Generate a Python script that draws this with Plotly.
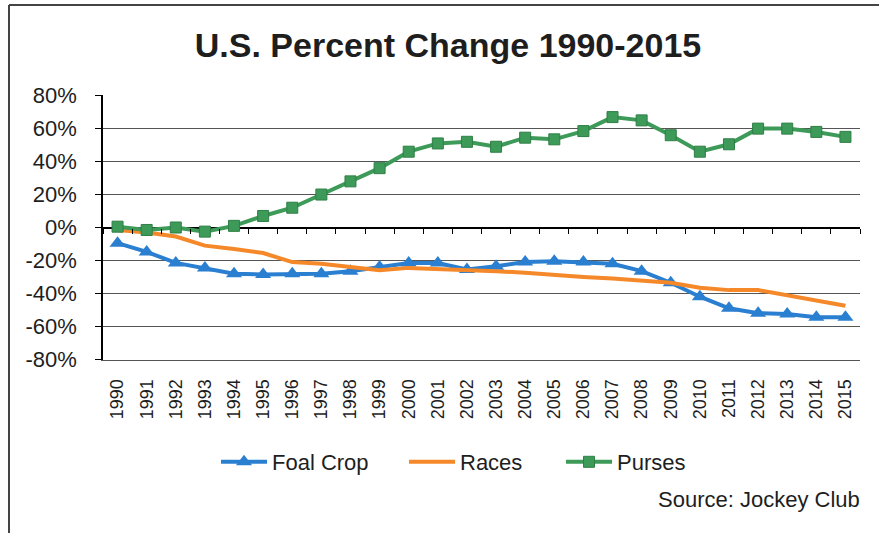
import plotly.graph_objects as go

years = ["1990", "1991", "1992", "1993", "1994", "1995", "1996", "1997", "1998", "1999",
         "2000", "2001", "2002", "2003", "2004", "2005", "2006", "2007", "2008", "2009",
         "2010", "2011", "2012", "2013", "2014", "2015"]
foal_crop = [-9.5, -14.8, -21.5, -24.5, -28, -28.5, -28, -28, -26.5, -24, -21.5, -21.5, -25.5,
             -23.5, -21, -20.5, -21, -22, -26.5, -33.5, -42, -49, -52, -52.5, -54.5, -54.5]
races = [-1.5, -3, -5.5, -11, -13, -15.5, -21, -22, -24, -26, -24.5, -25, -26, -26.5, -27.5,
         -29, -30, -31, -32, -33.5, -36.5, -38, -38, -41, -44, -47.5]
purses = [0.5, -1.5, 0, -2.5, 1, 7, 12, 20, 28, 36, 46, 51, 52, 49, 54.5, 53.5, 58.5, 67, 65,
          56, 46, 50.5, 60, 60, 58, 55]
y_ticks = [-80, -60, -40, -20, 0, 20, 40, 60, 80]
y_tick_labels = ["-80%", "-60%", "-40%", "-20%", "0%", "20%", "40%", "60%", "80%"]

W, H = 879, 533
L, R, T, B = 103, 860, 95, 360  # plot area in px

BLUE = "#2B7FD0"
ORANGE = "#F5892A"
GREEN = "#3D9A58"
FONT = "Liberation Sans, Arial, sans-serif"
TXT = "#1e1e1e"

pw, ph = R - L, B - T


def px_x(x):
    return (x - L) / pw


def px_y(y):
    return (B - y) / ph


fig = go.Figure()
fig.add_trace(go.Scatter(
    x=years, y=foal_crop, name="Foal Crop", mode="lines+markers", legend="legend",
    line=dict(color=BLUE, width=4),
    marker=dict(symbol="triangle-up", size=14, color=BLUE),
))
fig.add_trace(go.Scatter(
    x=years, y=races, name="Races", mode="lines", legend="legend2",
    line=dict(color=ORANGE, width=4),
))
fig.add_trace(go.Scatter(
    x=years, y=purses, name="Purses", mode="lines+markers", legend="legend3",
    line=dict(color=GREEN, width=4),
    marker=dict(symbol="square", size=11, color=GREEN, line=dict(color="#2F7F46", width=1)),
))
# helper axis for tick marks along the zero line
fig.add_trace(go.Scatter(x=[], y=[], xaxis="x2", yaxis="y", showlegend=False, hoverinfo="skip"))

legend_common = dict(yanchor="middle", y=px_y(462), xanchor="left", font=dict(size=22),
                     bgcolor="rgba(0,0,0,0)", itemwidth=46)

fig.update_layout(
    width=W, height=H,
    margin=dict(l=L, r=W - R, t=T, b=H - B, autoexpand=False),
    paper_bgcolor="white", plot_bgcolor="white",
    font=dict(family=FONT, color=TXT, size=22),
    title=dict(text="<b>U.S. Percent Change 1990-2015</b>", x=448 / W, xref="container",
               xanchor="center", y=1 - 45 / H, yref="container", yanchor="middle",
               font=dict(size=34, family=FONT, color=TXT)),
    xaxis=dict(type="category", range=[-0.5, 25.5], showgrid=False,
               showline=True, linecolor="#555555", linewidth=1,
               zeroline=False, ticks="", tickangle=-90, tickfont=dict(size=18),
               ticklabelstandoff=11, automargin=False),
    xaxis2=dict(overlaying="x", anchor="free", position=0.5, side="bottom",
                range=[-0.5, 25.5], tickmode="linear", tick0=-0.5, dtick=1,
                ticks="outside", ticklen=5, tickcolor="black", tickwidth=1,
                showticklabels=False, showgrid=False, showline=False, zeroline=False),
    yaxis=dict(range=[-80.4, 80.4], tickvals=y_ticks, ticktext=y_tick_labels,
               showgrid=True, gridcolor="#555555", gridwidth=1,
               zeroline=True, zerolinecolor="black", zerolinewidth=1.5,
               showline=True, linecolor="black", linewidth=1.5,
               ticks="outside", ticklen=6, tickcolor="black",
               tickfont=dict(size=22), ticklabelstandoff=14, automargin=False),
    legend=dict(x=px_x(216), **legend_common),
    legend2=dict(x=px_x(404), **legend_common),
    legend3=dict(x=px_x(561), **legend_common),
    showlegend=True,
    annotations=[dict(text="Source: Jockey Club", xref="paper", yref="paper",
                      x=px_x(862), y=px_y(500), xanchor="right", yanchor="middle",
                      showarrow=False, font=dict(size=22, color=TXT))],
    shapes=[
        dict(type="line", xref="paper", yref="paper", x0=px_x(9), x1=px_x(9),
             y0=px_y(5), y1=px_y(H), line=dict(color="#444444", width=2)),
        dict(type="line", xref="paper", yref="paper", x0=px_x(9), x1=px_x(W),
             y0=px_y(5), y1=px_y(5), line=dict(color="#444444", width=2)),
    ],
)

fig.write_html(
    "out.html",
    config={"displayModeBar": False},
    post_script="document.body.style.margin='0';document.body.style.overflow='hidden';",
)
